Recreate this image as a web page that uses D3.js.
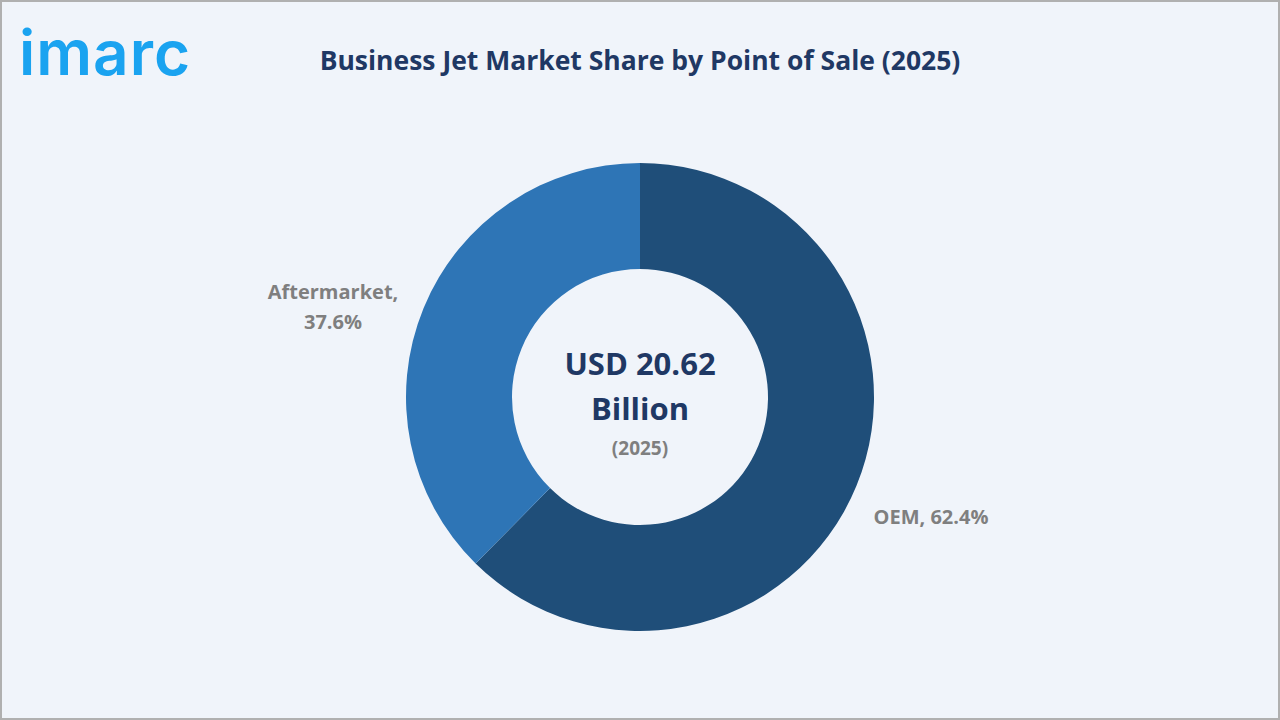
<!DOCTYPE html>
<html><head><meta charset="utf-8">
<script src="https://cdn.jsdelivr.net/npm/d3@7"></script>
<style>body{margin:0;background:#fff}</style>
</head><body><div class="container"></div>
<script>
var categories = ["OEM", "Aftermarket"];
var shares = [62.4, 37.6];
var colors = ["#1f4e79", "#2e75b6"];

var w = 1280, h = 720, cx = 640, cy = 397;
var svg = d3.select(".container").append("svg").attr("width", w).attr("height", h);

svg.append("rect").attr("x", 1).attr("y", 1).attr("width", w - 2).attr("height", h - 2)
	.style("fill", "#f0f4fa").style("stroke", "#b0b0b0").style("stroke-width", "2px");

// logo
svg.append("text").attr("x", 19).attr("y", 75).text("imarc")
	.style("font-family", "Inter, Roboto, sans-serif").style("font-size", "62px")
	.style("font-weight", "600").style("fill", "#1aa3f0").style("letter-spacing", "1px");

svg.append("text").attr("x", 640).attr("y", 70).attr("text-anchor", "middle")
	.text("Business Jet Market Share by Point of Sale (2025)")
	.style("font-family", "'Open Sans', sans-serif").style("font-size", "26.5px")
	.style("font-weight", "bold").style("fill", "#1f3864");

var pie = d3.pie().sort(null).value(function(d) { return d; });
var arc = d3.arc().innerRadius(128).outerRadius(234);
var g = svg.append("g").attr("transform", "translate(" + cx + "," + cy + ")");
g.selectAll("path").data(pie(shares)).enter().append("path")
	.attr("d", arc).style("fill", function(d, i) { return colors[i]; });

var lab = { family: "'Open Sans', sans-serif", size: "20px", color: "#7f7f7f" };
svg.append("text").attr("x", 931).attr("y", 524).attr("text-anchor", "middle")
	.text(categories[0] + ", " + shares[0] + "%")
	.style("font-family", lab.family).style("font-size", lab.size).style("font-weight", "bold").style("fill", lab.color);
var at = svg.append("text").attr("text-anchor", "middle")
	.style("font-family", lab.family).style("font-size", lab.size).style("font-weight", "bold").style("fill", lab.color);
at.append("tspan").attr("x", 333).attr("y", 299).text(categories[1] + ",");
at.append("tspan").attr("x", 333).attr("y", 329).text(shares[1] + "%");

svg.append("text").attr("x", cx).attr("y", 375).attr("text-anchor", "middle").text("USD 20.62")
	.style("font-family", lab.family).style("font-size", "31px").style("font-weight", "bold").style("fill", "#1f3864");
svg.append("text").attr("x", cx).attr("y", 420).attr("text-anchor", "middle").text("Billion")
	.style("font-family", lab.family).style("font-size", "31px").style("font-weight", "bold").style("fill", "#1f3864");
svg.append("text").attr("x", cx).attr("y", 455).attr("text-anchor", "middle").text("(2025)")
	.style("font-family", lab.family).style("font-size", "19px").style("font-weight", "bold").style("fill", "#7f7f7f");
</script>
</body></html>
